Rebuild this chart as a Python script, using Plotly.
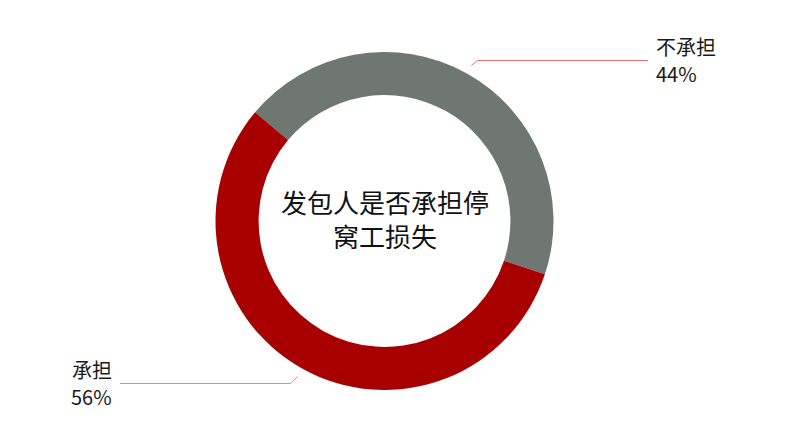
import math
import plotly.graph_objects as go

# data
labels = ['不承担', '承担']
values = [44, 56]
colors = ['#6E7772', '#A80000']
center_title = '发包人是否承担停<br>窝工损失'

W, H = 805, 448
OFF = 8                          # page body margin shifts the figure by 8px
cx, cy, R = 384.5 - OFF, 221 - OFF, 169
start_deg = -50                  # first slice starts 50 deg left of 12 o'clock

fig = go.Figure()
fig.add_trace(go.Pie(
    labels=labels,
    values=values,
    hole=0.745,
    sort=False,
    direction='clockwise',
    rotation=start_deg,
    marker=dict(colors=colors, line=dict(width=0)),
    textinfo='none',
    hoverinfo='label+percent',
    showlegend=False,
    domain=dict(x=[(cx - R) / W, (cx + R) / W],
                y=[1 - (cy + R) / H, 1 - (cy - R) / H]),
))


def px(x, y):
    return x / W, 1 - y / H


# leader lines and labels, placed at each slice's mid angle
total = sum(values)
acc = 0
annotations = []
shapes = []
line_colors = ['#EC6E6E', '#F08C74']
for i, v in enumerate(values):
    mid = start_deg + (acc + v / 2) / total * 360
    acc += v
    a = math.radians(mid)
    x0 = cx + 178 * math.sin(a)
    y0 = cy - 178 * math.cos(a)
    right = math.sin(a) > 0
    x1 = x0 + (6 if right else -7)
    # snap the horizontal part onto a pixel row so it stays crisp
    y1 = round(y0 + (-6 if math.cos(a) > 0 else 7)) + 0.5
    x2 = (648 if right else 120) - OFF
    p0, p1, p2 = px(x0, y0), px(x1, y1), px(x2, y1)
    shapes.append(dict(
        type='path', xref='paper', yref='paper',
        path=f'M {p0[0]} {p0[1]} L {p1[0]} {p1[1]} L {p2[0]} {p2[1]}',
        line=dict(color=line_colors[i], width=1),
    ))
    tx = (654 if right else 114) - OFF
    anchor = 'left' if right else 'right'
    pct = f'{round(v / total * 100)}%'
    for text, dy in [(labels[i], -14), (pct, 13)]:
        ax, ay = px(tx, y1 + dy)
        annotations.append(dict(
            x=ax, y=ay, xref='paper', yref='paper',
            text=text, showarrow=False,
            xanchor=anchor, yanchor='middle',
            font=dict(size=20, color='#1A1A1A'),
        ))

ax, ay = px(cx, cy - 2)
annotations.append(dict(
    x=ax, y=ay, xref='paper', yref='paper',
    text=center_title, showarrow=False,
    xanchor='center', yanchor='middle',
    font=dict(size=26, color='#111111'),
))

fig.update_layout(
    width=W, height=H,
    margin=dict(l=0, r=0, t=0, b=0),
    paper_bgcolor='white',
    plot_bgcolor='white',
    font=dict(family='Noto Sans CJK SC, Noto Sans, sans-serif'),
    shapes=shapes,
    annotations=annotations,
)

fig.write_html('out.html')
